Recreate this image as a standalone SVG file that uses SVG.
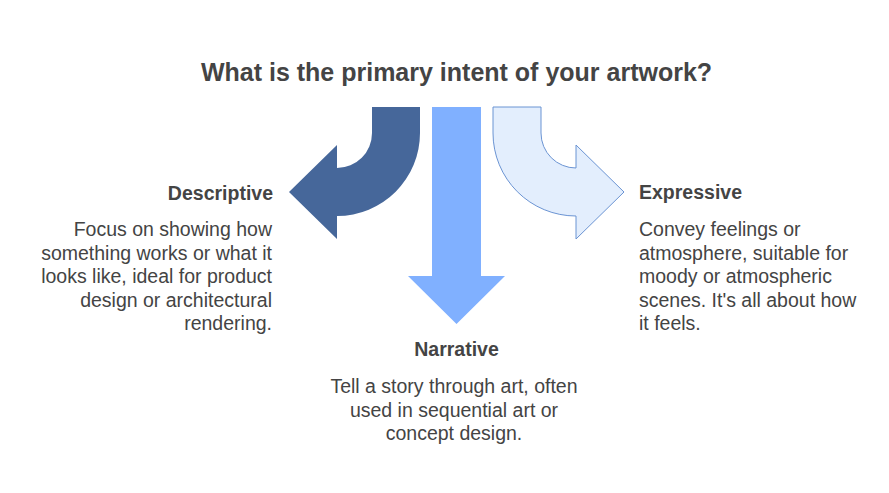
<svg xmlns="http://www.w3.org/2000/svg" width="889" height="493" viewBox="0 0 889 493">
<style>
text{font-family:"Liberation Sans",Arial,sans-serif;fill:#444444}
.title{font-size:25px;font-weight:bold}
.head{font-size:19.5px;font-weight:bold}
.body{font-size:19.5px}
</style>
<rect width="889" height="493" fill="#ffffff"/>
<text class="title" x="456.5" y="81" text-anchor="middle">What is the primary intent of your artwork?</text>
<g id="connectors">
<path id="arrow-descriptive" d="M372,107 L420,107 L420,133 A83,83 0 0 1 337,216 L337,239 L289,192 L337,145 L337,168 A35,35 0 0 0 372,133 Z" fill="#46679a"/>
<path id="arrow-narrative" d="M432,107 L481,107 L481,276 L505,276 L456.5,324 L408,276 L432,276 Z" fill="#80b0ff"/>
<path id="arrow-expressive" d="M541,107 L493,107 L493,133 A83,83 0 0 0 576,216 L576,239 L624,192 L576,145 L576,168 A35,35 0 0 1 541,133 Z" fill="#e3eefd" stroke="#6b94d3" stroke-width="1"/>
</g>
<g id="node-descriptive">
<text class="head" x="273" y="200" text-anchor="end">Descriptive</text>
<text class="body" text-anchor="end"><tspan x="272" y="236">Focus on showing how</tspan><tspan x="272" y="259.5">something works or what it</tspan><tspan x="272" y="283">looks like, ideal for product</tspan><tspan x="272" y="306.5">design or architectural</tspan><tspan x="272" y="330">rendering.</tspan></text>
</g>
<g id="node-narrative">
<text class="head" x="456.5" y="356" text-anchor="middle">Narrative</text>
<text class="body" text-anchor="middle"><tspan x="454" y="393">Tell a story through art, often</tspan><tspan x="454" y="416.5">used in sequential art or</tspan><tspan x="454" y="440">concept design.</tspan></text>
</g>
<g id="node-expressive">
<text class="head" x="639" y="199">Expressive</text>
<text class="body"><tspan x="639" y="236">Convey feelings or</tspan><tspan x="639" y="259.5">atmosphere, suitable for</tspan><tspan x="639" y="283">moody or atmospheric</tspan><tspan x="639" y="306.5">scenes. It's all about how</tspan><tspan x="639" y="330">it feels.</tspan></text>
</g>
</svg>
